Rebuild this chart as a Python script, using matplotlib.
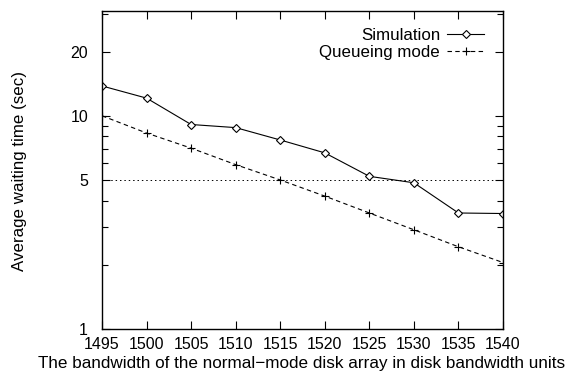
import matplotlib
matplotlib.use("Agg")
import matplotlib.pyplot as plt
from matplotlib.ticker import FixedLocator, NullFormatter, FixedFormatter

plt.rcParams['font.family'] = ['Liberation Sans', 'DejaVu Sans']

bandwidth = [1495, 1500, 1505, 1510, 1515, 1520, 1525, 1530, 1535, 1540]
simulation = [13.8, 12.1, 9.1, 8.8, 7.7, 6.7, 5.2, 4.85, 3.5, 3.48]
queueing = [10.0, 8.3, 7.05, 5.9, 5.0, 4.2, 3.5, 2.92, 2.43, 2.05]
threshold = 5
y_major = [1, 5, 10, 20]
y_minor = [2, 3, 4, 6, 7, 8, 9, 30]

fig = plt.figure(figsize=(5.66, 3.75), dpi=100)
ax = fig.add_axes([102/566, 1-329/375, (503-102)/566, (329-11)/375])

ax.axhline(threshold, color='black', lw=0.7, ls=(0, (1.5, 3)))
ax.plot(bandwidth, simulation, color='black', lw=0.8, marker='D', markersize=4.3,
        markerfacecolor='white', markeredgecolor='black', markeredgewidth=0.8,
        label='Simulation')
ax.plot(bandwidth, queueing, color='black', lw=0.8, ls=(0, (4, 3)), marker='+',
        markersize=6, markeredgewidth=0.8, label='Queueing mode')

ax.set_yscale('log')
ax.set_ylim(1, 31)
ax.set_xlim(1495, 1540)
ax.set_xticks(bandwidth)
ax.yaxis.set_major_locator(FixedLocator(y_major))
ax.yaxis.set_major_formatter(FixedFormatter([str(v) for v in y_major]))
ax.yaxis.set_minor_locator(FixedLocator(y_minor))
ax.yaxis.set_minor_formatter(NullFormatter())

ax.tick_params(axis='both', which='major', direction='in', length=6, width=0.8,
               top=True, right=True, labelsize=11.5)
ax.tick_params(axis='x', which='major', pad=6)
ax.tick_params(axis='y', which='major', pad=10)
ax.tick_params(axis='both', which='minor', direction='in', length=4, width=0.8,
               top=True, right=True)
for s in ax.spines.values():
    s.set_linewidth(1.0)

ax.set_xlabel('The bandwidth of the normal\u2212mode disk array in disk bandwidth units',
              fontsize=12.3)
ax.xaxis.set_label_coords(0.4975, -(356 - 329) / 318)
ax.set_ylabel('Average waiting time (sec)', fontsize=12.2)
ax.yaxis.set_label_coords(-(102 - 27) / 401, 0.497)

leg = ax.legend(loc='upper right', frameon=False, markerfirst=False, fontsize=12.2,
                handlelength=2.2, handletextpad=0.4, borderaxespad=0.0,
                labelspacing=0.12, bbox_to_anchor=(1 - 12/401, 1 - 10/318))

fig.savefig('out.png', dpi=100)
